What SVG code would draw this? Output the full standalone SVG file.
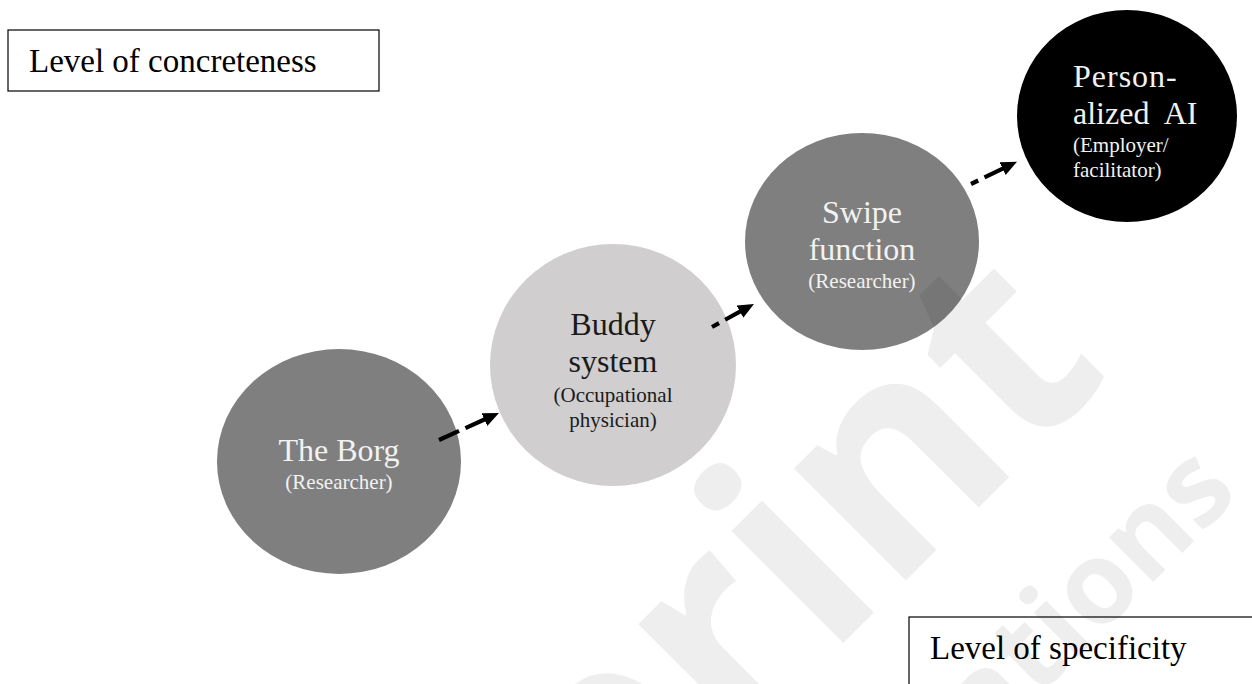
<svg xmlns="http://www.w3.org/2000/svg" width="1252" height="684" viewBox="0 0 1252 684">
  <style>
    .frame { fill: #ffffff; stroke: #000000; stroke-width: 1.2; }
    .boxlabel { font-family: "Liberation Serif", "Times New Roman", serif; font-size: 33px; fill: #000000; }
    .main { font-family: "Liberation Serif", "Times New Roman", serif; font-size: 32px; text-anchor: middle; }
    .sub { font-family: "Liberation Serif", "Times New Roman", serif; font-size: 21px; text-anchor: middle; }
    .left { text-anchor: start; }
    .light { fill: #f2f2f2; }
    .dark { fill: #1a1a1a; }
    .link { fill: none; stroke: #000000; stroke-width: 4.2; stroke-dasharray: 22 7; }
    .mark { font-family: "Open Sans", "DejaVu Sans", sans-serif; font-weight: 700; fill: #000000; fill-opacity: 0.065; }
  </style>
  <defs>
    <marker id="head" markerUnits="userSpaceOnUse" markerWidth="16" markerHeight="14" viewBox="0 0 16 14" refX="2" refY="7" orient="auto">
      <path d="M0,0 L16,7 L0,14 z" fill="#000000"/>
    </marker>
  </defs>

  <rect width="1252" height="684" fill="#ffffff"/>

  <!-- axis captions -->
  <g id="concreteness">
    <rect class="frame" x="8" y="30" width="371" height="61"/>
    <text class="boxlabel" x="29" y="72">Level of concreteness</text>
  </g>
  <g id="specificity">
    <rect class="frame" x="909" y="617" width="360" height="90"/>
    <text class="boxlabel" x="930" y="659">Level of specificity</text>
  </g>

  <!-- stages -->
  <g id="borg">
    <ellipse cx="339" cy="461.5" rx="122" ry="112.5" fill="#7f7f7f"/>
    <text class="main light" x="339" y="461">The Borg</text>
    <text class="sub light" x="339" y="489">(Researcher)</text>
  </g>
  <g id="buddy">
    <ellipse cx="613" cy="365" rx="123" ry="121" fill="#d0cece"/>
    <text class="main dark" x="613" y="335">Buddy</text>
    <text class="main dark" x="613" y="372">system</text>
    <text class="sub dark" x="613" y="402">(Occupational</text>
    <text class="sub dark" x="613" y="427">physician)</text>
  </g>
  <g id="swipe">
    <ellipse cx="862" cy="241.5" rx="117" ry="108.5" fill="#7f7f7f"/>
    <text class="main light" x="862" y="223">Swipe</text>
    <text class="main light" x="862" y="260">function</text>
    <text class="sub light" x="862" y="288">(Researcher)</text>
  </g>
  <g id="personalized-ai">
    <ellipse cx="1127" cy="116" rx="110" ry="106" fill="#000000"/>
    <text class="main light left" x="1073" y="87" letter-spacing="1">Person-</text>
    <text class="main light left" x="1073" y="124" word-spacing="8">alized AI</text>
    <text class="sub light left" x="1073" y="152">(Employer/</text>
    <text class="sub light left" x="1073" y="177">facilitator)</text>
  </g>

  <!-- dashed progression arrows -->
  <g id="connectors">
    <line class="link" x1="439" y1="440" x2="486.2" y2="418.7" marker-end="url(#head)"/>
    <line class="link" x1="712" y1="327" x2="741.7" y2="310.7" stroke-dashoffset="14" marker-end="url(#head)"/>
    <line class="link" x1="971" y1="184" x2="1004.4" y2="167.8" stroke-dashoffset="14" marker-end="url(#head)"/>
  </g>

  <!-- faint diagonal watermark -->
  <g id="watermark" transform="rotate(-45)">
    <text class="mark" x="524" y="1051" font-size="290" text-anchor="end">Preprint</text>
    <text class="mark" x="528" y="1227" font-size="115" text-anchor="end">JMIR Publications</text>
  </g>
</svg>
